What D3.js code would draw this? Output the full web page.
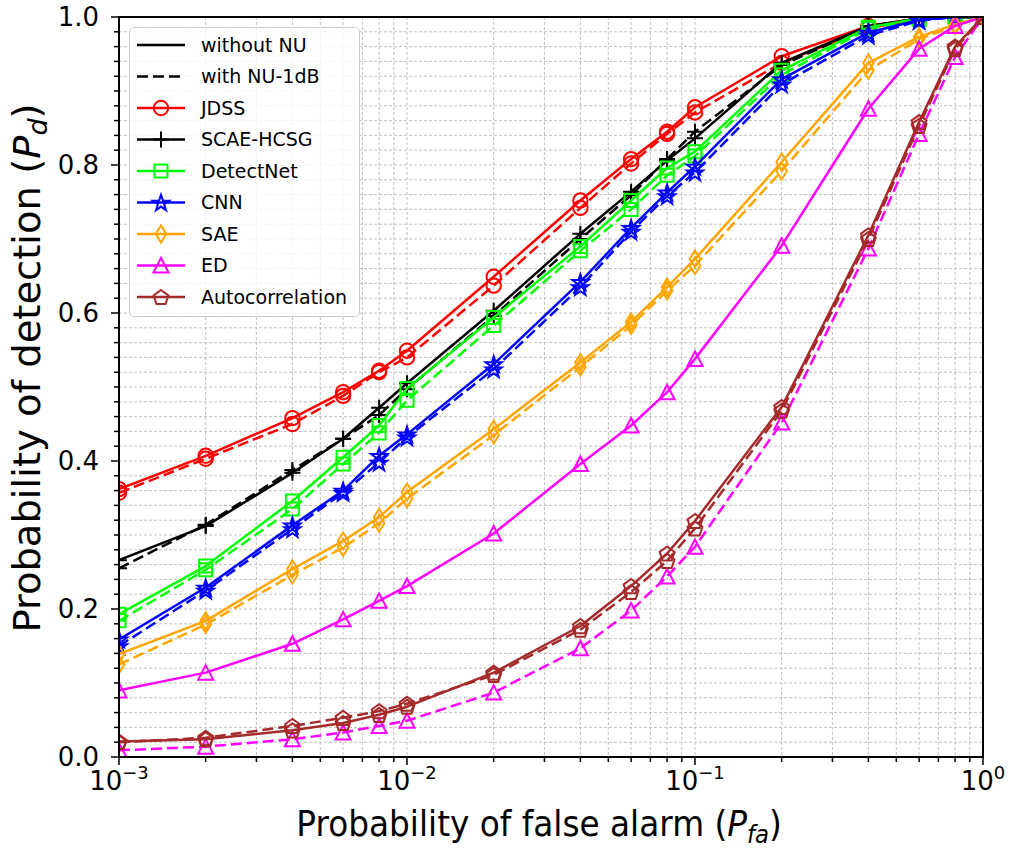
<!DOCTYPE html>
<html>
<head>
<meta charset="utf-8">
<script src="https://cdn.jsdelivr.net/npm/d3@7"></script>
<style>
  html, body { margin: 0; padding: 0; background: #fff; }
  svg { display: block; }
  text { font-family: "DejaVu Sans", sans-serif; fill: #000; }
</style>
</head>
<body>
<svg id="chart" width="1014" height="853"></svg>
<script>
// False-alarm probabilities on the x axis
const pfa = [0.001, 0.002, 0.004, 0.006, 0.008, 0.01, 0.02, 0.04, 0.06, 0.08, 0.1, 0.2, 0.4, 0.6, 0.8, 1.0];

// Detection probabilities: "without NU" (solid) and "with NU-1dB" (dashed)
const jdssClean   = [0.362, 0.407, 0.458, 0.493, 0.522, 0.549, 0.649, 0.752, 0.808, 0.845, 0.878, 0.947, 0.988, 0.998, 1.0, 1.0];
const jdssNU      = [0.357, 0.403, 0.450, 0.488, 0.520, 0.540, 0.637, 0.742, 0.802, 0.842, 0.871, 0.938, 0.985, 0.997, 1.0, 1.0];
const scaeClean   = [0.266, 0.312, 0.384, 0.430, 0.472, 0.505, 0.603, 0.707, 0.764, 0.806, 0.836, 0.938, 0.988, 0.998, 1.0, 1.0];
const scaeNU      = [0.255, 0.314, 0.388, 0.430, 0.462, 0.497, 0.596, 0.700, 0.759, 0.808, 0.845, 0.935, 0.987, 0.998, 1.0, 1.0];
const detnetClean = [0.193, 0.258, 0.346, 0.405, 0.448, 0.498, 0.594, 0.690, 0.752, 0.796, 0.818, 0.928, 0.986, 0.998, 1.0, 1.0];
const detnetNU    = [0.184, 0.253, 0.335, 0.396, 0.438, 0.482, 0.583, 0.684, 0.740, 0.786, 0.812, 0.922, 0.984, 0.997, 1.0, 1.0];
const cnnClean    = [0.159, 0.229, 0.313, 0.360, 0.407, 0.436, 0.531, 0.642, 0.715, 0.763, 0.798, 0.916, 0.979, 0.996, 1.0, 1.0];
const cnnNU       = [0.150, 0.225, 0.308, 0.357, 0.398, 0.432, 0.524, 0.635, 0.710, 0.758, 0.790, 0.909, 0.975, 0.995, 1.0, 1.0];
const saeClean    = [0.139, 0.184, 0.254, 0.292, 0.324, 0.358, 0.443, 0.533, 0.588, 0.635, 0.673, 0.804, 0.938, 0.973, 0.990, 1.0];
const saeNU       = [0.125, 0.179, 0.246, 0.283, 0.316, 0.349, 0.435, 0.527, 0.583, 0.630, 0.664, 0.792, 0.928, 0.970, 0.988, 1.0];
const edClean     = [0.090, 0.114, 0.153, 0.186, 0.211, 0.231, 0.302, 0.396, 0.448, 0.493, 0.538, 0.691, 0.876, 0.957, 0.988, 1.0];
const edNU        = [0.009, 0.014, 0.024, 0.033, 0.042, 0.049, 0.087, 0.147, 0.198, 0.244, 0.284, 0.452, 0.687, 0.842, 0.946, 1.0];
const acClean     = [0.021, 0.024, 0.036, 0.046, 0.057, 0.068, 0.114, 0.177, 0.231, 0.275, 0.319, 0.473, 0.705, 0.858, 0.960, 1.0];
const acNU        = [0.020, 0.026, 0.042, 0.053, 0.062, 0.072, 0.111, 0.172, 0.223, 0.265, 0.309, 0.468, 0.700, 0.853, 0.957, 1.0];

// Method names, colours and marker shapes
const methods = ["JDSS", "SCAE-HCSG", "DetectNet", "CNN", "SAE", "ED", "Autocorrelation"];
const colors  = ["#ff0000", "#000000", "#00ff00", "#0000ff", "#ffa500", "#ff00ff", "#a52a2a"];
const shapes  = ["circle", "plus", "square", "star", "thinDiamond", "triangle", "pentagon"];
const cleanSeries = [jdssClean, scaeClean, detnetClean, cnnClean, saeClean, edClean, acClean];
const nuSeries    = [jdssNU, scaeNU, detnetNU, cnnNU, saeNU, edNU, acNU];

// Axis ticks
const xMajorTicks = [0.001, 0.01, 0.1, 1];
const xTickExponents = ["\u22123", "\u22122", "\u22121", "0"];
const yMajorTicks = [0, 0.2, 0.4, 0.6, 0.8, 1.0];

const svg = d3.select("#chart");
const L = 119, R = 983, T = 17, B = 757;

const x = d3.scaleLog().domain([1e-3, 1]).range([L, R]);
const y = d3.scaleLinear().domain([0, 1]).range([B, T]);

// Minor tick/grid positions
const xMinor = [];
[1e-3, 1e-2, 1e-1].forEach(d => { for (let k = 2; k <= 9; k++) xMinor.push(d * k); });
const yMinor = d3.range(0, 51).map(i => i / 50).filter(v => !yMajorTicks.some(m => Math.abs(m - v) < 1e-9));

// Grid (major + minor, dashed gray)
const grid = svg.append("g");
const gridStyle = sel => sel.attr("stroke", "#b9b9b9").attr("stroke-width", 0.9).attr("stroke-dasharray", "3,2");
grid.selectAll(".gx").data(xMajorTicks.concat(xMinor)).join("line")
  .attr("x1", d => x(d)).attr("x2", d => x(d)).attr("y1", T).attr("y2", B).call(gridStyle);
grid.selectAll(".gy").data(yMajorTicks.concat(yMinor)).join("line")
  .attr("y1", d => y(d)).attr("y2", d => y(d)).attr("x1", L).attr("x2", R).call(gridStyle);

// Marker path generators
function markerPath(shape) {
  switch (shape) {
    case "circle": return d3.symbol(d3.symbolCircle, Math.PI * 7.2 * 7.2)();
    case "square": return "M-6.5,-6.5H6.5V6.5H-6.5Z";
    case "plus": return "M-8,0H8M0,-8V8";
    case "thinDiamond": return "M0,-8.5L5.3,0L0,8.5L-5.3,0Z";
    case "triangle": return "M0,-7.5L7.5,7L-7.5,7Z";
    case "pentagon": {
      const r = 7.8;
      const pts = d3.range(5).map(i => {
        const a = -Math.PI / 2 + i * 2 * Math.PI / 5;
        return [r * Math.cos(a), r * Math.sin(a) + 0.8];
      });
      return "M" + pts.map(p => p.join(",")).join("L") + "Z";
    }
    case "star": {
      const ro = 8.5, ri = 3.3;
      const pts = d3.range(10).map(i => {
        const a = -Math.PI / 2 + i * Math.PI / 5;
        const r = i % 2 === 0 ? ro : ri;
        return [r * Math.cos(a), r * Math.sin(a) + 0.8];
      });
      return "M" + pts.map(p => p.join(",")).join("L") + "Z";
    }
  }
}

// Clip to the plotting area
svg.append("clipPath").attr("id", "plotClip")
  .append("rect").attr("x", L).attr("y", T).attr("width", R - L).attr("height", B - T);

const plot = svg.append("g").attr("clip-path", "url(#plotClip)");
const line = d3.line().x(d => x(d[0])).y(d => y(d[1]));
const DASH = "11,5";

methods.forEach((name, i) => {
  [[cleanSeries[i], null], [nuSeries[i], DASH]].forEach(([vals, dash]) => {
    const pts = pfa.map((p, j) => [p, vals[j]]);
    const g = plot.append("g");
    g.append("path").datum(pts).attr("d", line)
      .attr("fill", "none").attr("stroke", colors[i]).attr("stroke-width", 2.5)
      .attr("stroke-dasharray", dash).attr("stroke-linejoin", "round");
    g.selectAll("path.m").data(pts).join("path").attr("class", "m")
      .attr("d", markerPath(shapes[i]))
      .attr("transform", d => `translate(${x(d[0])},${y(d[1])})`)
      .attr("fill", "none").attr("stroke", colors[i]).attr("stroke-width", 2);
  });
});

// Spines
svg.append("rect").attr("x", L).attr("y", T).attr("width", R - L).attr("height", B - T)
  .attr("fill", "none").attr("stroke", "#000").attr("stroke-width", 2);

// Ticks
const ticks = svg.append("g").attr("stroke", "#000").attr("stroke-width", 1.5);
ticks.selectAll(".xM").data(xMajorTicks).join("line")
  .attr("x1", d => x(d)).attr("x2", d => x(d)).attr("y1", B).attr("y2", B + 8);
ticks.selectAll(".xm").data(xMinor).join("line")
  .attr("x1", d => x(d)).attr("x2", d => x(d)).attr("y1", B).attr("y2", B + 5);
ticks.selectAll(".yM").data(yMajorTicks).join("line")
  .attr("x1", L - 8).attr("x2", L).attr("y1", d => y(d)).attr("y2", d => y(d));
ticks.selectAll(".ym").data(yMinor).join("line")
  .attr("x1", L - 5).attr("x2", L).attr("y1", d => y(d)).attr("y2", d => y(d));

// Tick labels
svg.selectAll(".ylab").data(yMajorTicks).join("text")
  .attr("x", L - 20).attr("y", d => y(d)).attr("dy", "0.36em")
  .attr("text-anchor", "end").attr("font-size", 26)
  .text(d => d.toFixed(1));

xMajorTicks.forEach((d, i) => {
  const t = svg.append("text").attr("x", x(d)).attr("y", 790)
    .attr("text-anchor", "middle").attr("font-size", 26);
  t.append("tspan").text("10");
  t.append("tspan").attr("dy", -11).attr("font-size", 18).text(xTickExponents[i]);
});

// Axis titles (narrowed horizontally / lengthened vertically)
const xt = svg.append("text").attr("transform", "translate(539,836) scale(0.91,1)")
  .attr("text-anchor", "middle").attr("font-size", 36);
xt.append("tspan").text("Probability of false alarm (");
xt.append("tspan").attr("font-style", "italic").text("P");
xt.append("tspan").attr("font-style", "italic").attr("font-size", 25).attr("dy", 7).text("fa");
xt.append("tspan").attr("dy", -7).text(")");

const yt = svg.append("text").attr("transform", "translate(40,368) rotate(-90) scale(1.04,1)")
  .attr("text-anchor", "middle").attr("font-size", 37);
yt.append("tspan").text("Probability of detection (");
yt.append("tspan").attr("font-style", "italic").text("P");
yt.append("tspan").attr("font-style", "italic").attr("font-size", 26).attr("dy", 7).text("d");
yt.append("tspan").attr("dy", -7).text(")");

// Legend
const legendItems = [{ label: "without NU", color: "#000", dash: null, shape: null },
                     { label: "with NU-1dB", color: "#000", dash: DASH, shape: null }]
  .concat(methods.map((m, i) => ({ label: m, color: colors[i], dash: null, shape: shapes[i] })));

const lg = svg.append("g");
lg.append("rect").attr("x", 129.5).attr("y", 27.5).attr("width", 230).attr("height", 289).attr("rx", 4)
  .attr("fill", "#fff").attr("fill-opacity", 0.8).attr("stroke", "#cccccc").attr("stroke-width", 1);
legendItems.forEach((it, i) => {
  const yy = 45 + i * 31.5;
  lg.append("line").attr("x1", 137).attr("x2", 185).attr("y1", yy).attr("y2", yy)
    .attr("stroke", it.color).attr("stroke-width", 2.5).attr("stroke-dasharray", it.dash);
  if (it.shape) {
    lg.append("path").attr("d", markerPath(it.shape)).attr("transform", `translate(161,${yy})`)
      .attr("fill", "none").attr("stroke", it.color).attr("stroke-width", 2);
  }
  lg.append("text").attr("x", 201).attr("y", yy).attr("dy", "0.36em")
    .attr("font-size", 19).text(it.label);
});
</script>
</body>
</html>
